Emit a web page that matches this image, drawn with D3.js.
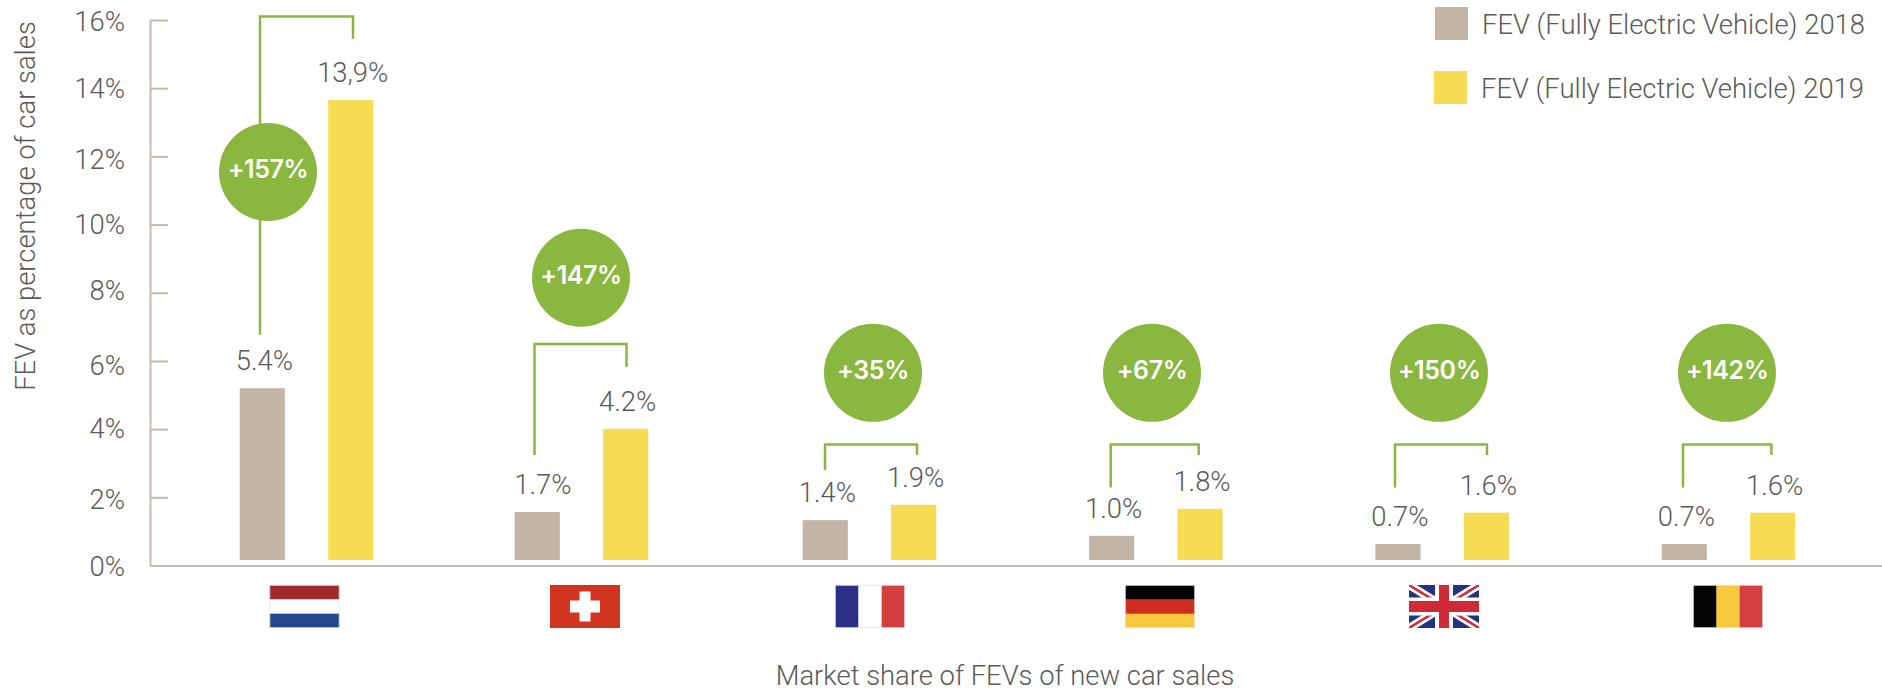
<!DOCTYPE html>
<html>
<head>
<meta charset="utf-8">
<script src="https://d3js.org/d3.v7.min.js"></script>
<style>
  html, body { margin: 0; padding: 0; background: #fff; }
  text { font-family: Roboto, sans-serif; font-weight: 300; fill: #5a5a5a; }
  .tick text { font-family: Roboto, sans-serif; }
</style>
</head>
<body>
<svg id="chart" width="1882" height="693"></svg>
<script>
var countries = ["NL", "CH", "FR", "DE", "UK", "BE"];
var seriesNames = ["FEV (Fully Electric Vehicle) 2018", "FEV (Fully Electric Vehicle) 2019"];
var yTicks = [0, 2, 4, 6, 8, 10, 12, 14, 16];
// the tick labels are not evenly set in the picture
var yTickLabelDrops = [10, 11, 8, 14, 7, 9, 12, 9, 10];

// bar heights as drawn (they sit a little under the printed labels)
var values2018 = [5.2, 1.57, 1.33, 0.87, 0.63, 0.63];
var values2019 = [13.65, 4.01, 1.78, 1.66, 1.55, 1.55];
var labels2018 = ["5.4%", "1.7%", "1.4%", "1.0%", "0.7%", "0.7%"];
var labels2019 = ["13,9%", "4.2%", "1.9%", "1.8%", "1.6%", "1.6%"];
var growthLabels = ["+157%", "+147%", "+35%", "+67%", "+150%", "+142%"];

// growth bubble height and bracket levels, on the y axis
var bubbleLevels = [11.54, 8.44, 5.65, 5.65, 5.65, 5.65];
var bracketTops = [16.1, 6.5, 3.55, 3.55, 3.55, 3.55];
var bracketLeftEnds = [6.77, 3.24, 2.8, 2.29, 2.29, 2.29];
var bracketRightEnds = [15.45, 5.82, 3.24, 3.24, 3.24, 3.24];

var barFloor = 0.16;
var fontSize = "27.4px";
var gold = "#f5dc52", taupe = "#c2b5a6", green = "#8ab73f", axisColor = "#c6bbad";

var svg = d3.select("#chart");

var y = d3.scaleLinear().domain([0, 16]).range([565.5, 20]);

// the first gap in the picture is narrower than the others
var groupX = d3.scaleLinear().domain([0, 1, 2, 5]).range([306.5, 581.5, 869.5, 1728.5]);
var barX = d3.scaleBand().domain([0, 1]).range([-66.75, 66.75]).paddingInner(0.49);
var bubbleX = d3.scaleOrdinal().domain(countries).range([268, 581, 873, 1152, 1439, 1727]);
var flagX = d3.scaleOrdinal().domain(countries).range([304.5, 585, 870, 1160, 1444, 1728]);
var bracketLeftX = d3.scaleOrdinal().domain(countries).range([260, 534.5, 825, 1110.7, 1395, 1683]);
var bracketRightX = d3.scaleOrdinal().domain(countries).range([353, 626.5, 917, 1198.7, 1487, 1771.4]);

var fillBySeries = d3.scaleOrdinal().domain([0, 1]).range([taupe, gold]);

// axes
var yAxis = svg.append("g")
	.attr("transform", "translate(150,0)")
	.call(d3.axisLeft(y).tickValues(yTicks).tickFormat(function (d) { return d + "%"; })
		.tickSizeInner(-18).tickSizeOuter(0).tickPadding(25));
yAxis.selectAll("line").attr("stroke", axisColor).attr("stroke-width", 2);
yAxis.select(".domain").attr("stroke", axisColor).attr("stroke-width", 2);
yAxis.selectAll("text")
	.attr("dy", 0)
	.attr("y", function (d, i) { return yTickLabelDrops[i]; })
	.style("font-size", fontSize)
	.style("fill", "#5a5a5a");

var xAxis = svg.append("g")
	.attr("transform", "translate(0," + y(0) + ")")
	.call(d3.axisBottom(d3.scaleLinear().range([150, 1882])).tickValues([]).tickSizeOuter(0));
xAxis.select(".domain").attr("stroke", axisColor).attr("stroke-width", 2);

svg.append("text")
	.attr("transform", "translate(35,206) rotate(-90)")
	.attr("text-anchor", "middle")
	.style("font-size", fontSize)
	.text("FEV as percentage of car sales");

svg.append("text")
	.attr("x", 1005).attr("y", 685)
	.attr("text-anchor", "middle")
	.style("font-size", fontSize)
	.text("Market share of FEVs of new car sales");

// bars and their labels
[values2018, values2019].forEach(function (vals, s) {
	var labels = s === 0 ? labels2018 : labels2019;

	svg.selectAll(".bar" + s).data(vals).enter().append("rect")
		.attr("class", "bar" + s)
		.attr("x", function (d, i) { return groupX(i) + barX(s); })
		.attr("y", function (d) { return y(d); })
		.attr("width", barX.bandwidth())
		.attr("height", function (d) { return y(barFloor) - y(d); })
		.attr("fill", fillBySeries(s));

	svg.selectAll(".lab" + s).data(vals).enter().append("text")
		.attr("class", "lab" + s)
		.attr("x", function (d, i) {
			// the swiss 2018 label sits further right than the rest
			var nudge = (s === 0 && i === 1) ? 5.5 : 2;
			return groupX(i) + barX(s) + barX.bandwidth() / 2 + nudge;
		})
		.attr("y", function (d) { return y(d) - 18; })
		.attr("text-anchor", "middle")
		.style("font-size", fontSize)
		.text(function (d, i) { return labels[i]; });
});

// brackets, drawn under the bubbles
var bracketLine = d3.line();
svg.selectAll(".bracket").data(countries).enter().append("path")
	.attr("class", "bracket")
	.attr("fill", "none")
	.attr("stroke", green)
	.attr("stroke-width", 2.5)
	.attr("d", function (d, i) {
		return bracketLine([
			[bracketLeftX(d), y(bracketLeftEnds[i])],
			[bracketLeftX(d), y(bracketTops[i])],
			[bracketRightX(d), y(bracketTops[i])],
			[bracketRightX(d), y(bracketRightEnds[i])]
		]);
	});

// growth bubbles
svg.selectAll(".bubble").data(countries).enter().append("circle")
	.attr("class", "bubble")
	.attr("cx", function (d) { return bubbleX(d); })
	.attr("cy", function (d, i) { return y(bubbleLevels[i]); })
	.attr("r", 49)
	.attr("fill", green);

svg.selectAll(".growth").data(countries).enter().append("text")
	.attr("class", "growth")
	.attr("x", function (d) { return bubbleX(d); })
	.attr("y", function (d, i) { return y(bubbleLevels[i]) + 6; })
	.attr("text-anchor", "middle")
	.style("font-family", "Inter, sans-serif")
	.style("font-weight", 600)
	.style("font-size", "25px")
	.style("letter-spacing", "-0.4px")
	.style("fill", "#fff")
	.text(function (d, i) { return growthLabels[i]; });

// legend
var legendSwatchX = [1435, 1434];
var legendRowY = [7, 71];
seriesNames.forEach(function (name, s) {
	svg.append("rect")
		.attr("x", legendSwatchX[s]).attr("y", legendRowY[s])
		.attr("width", 33).attr("height", 33)
		.attr("fill", fillBySeries(s));
	svg.append("text")
		.attr("x", legendSwatchX[s] + 47).attr("y", legendRowY[s] + 26.5)
		.style("font-size", fontSize)
		.text(name);
});

// flags, one small group per country
var flagW = 70, flagH = 43;
var flagStripes = {
	NL: { dir: "h", colors: ["#9e2a2c", "#ffffff", "#24468a"] },
	FR: { dir: "v", colors: ["#2b2f86", "#ffffff", "#d33f3f"] },
	DE: { dir: "h", colors: ["#050505", "#cd2e20", "#f6c93f"] },
	BE: { dir: "v", colors: ["#050505", "#f6c93f", "#d63f41"] }
};

var defs = svg.append("defs");
defs.append("clipPath").attr("id", "flag-clip").append("rect")
	.attr("width", flagW).attr("height", flagH);

countries.forEach(function (c) {
	var g = svg.append("g")
		.attr("transform", "translate(" + (flagX(c) - flagW / 2) + ",585)")
		.attr("clip-path", "url(#flag-clip)");

	if (flagStripes[c]) {
		var st = flagStripes[c];
		st.colors.forEach(function (col, k) {
			g.append("rect")
				.attr("x", st.dir === "v" ? k * flagW / 3 : 0)
				.attr("y", st.dir === "h" ? k * flagH / 3 : 0)
				.attr("width", st.dir === "v" ? flagW / 3 + 0.5 : flagW)
				.attr("height", st.dir === "h" ? flagH / 3 + 0.5 : flagH)
				.attr("fill", col);
		});
		// faint edge so the white stripes still read as part of the flag
		g.append("rect")
			.attr("width", flagW).attr("height", flagH)
			.attr("fill", "none").attr("stroke", "#e4e2ea").attr("stroke-width", 1.5);
	}
	if (c === "CH") {
		g.append("rect").attr("width", flagW).attr("height", flagH).attr("fill", "#d2351f");
		g.append("rect").attr("x", flagW / 2 - 15).attr("y", flagH / 2 - 6).attr("width", 30).attr("height", 12).attr("fill", "#fff");
		g.append("rect").attr("x", flagW / 2 - 5.5).attr("y", flagH / 2 - 15).attr("width", 11).attr("height", 30).attr("fill", "#fff");
	}
	if (c === "UK") {
		g.append("rect").attr("width", flagW).attr("height", flagH).attr("fill", "#25307f");
		var diagonals = [[[0, 0], [flagW, flagH]], [[0, flagH], [flagW, 0]]];
		diagonals.forEach(function (p) {
			g.append("path").attr("d", d3.line()(p)).attr("stroke", "#fff").attr("stroke-width", 8);
		});
		diagonals.forEach(function (p) {
			g.append("path").attr("d", d3.line()(p)).attr("stroke", "#cf2a36").attr("stroke-width", 2.5);
		});
		g.append("rect").attr("x", flagW / 2 - 9).attr("width", 18).attr("height", flagH).attr("fill", "#fff");
		g.append("rect").attr("y", flagH / 2 - 9).attr("width", flagW).attr("height", 18).attr("fill", "#fff");
		g.append("rect").attr("x", flagW / 2 - 5).attr("width", 10).attr("height", flagH).attr("fill", "#cf2a36");
		g.append("rect").attr("y", flagH / 2 - 5.5).attr("width", flagW).attr("height", 11).attr("fill", "#cf2a36");
	}
});
</script>
</body>
</html>
